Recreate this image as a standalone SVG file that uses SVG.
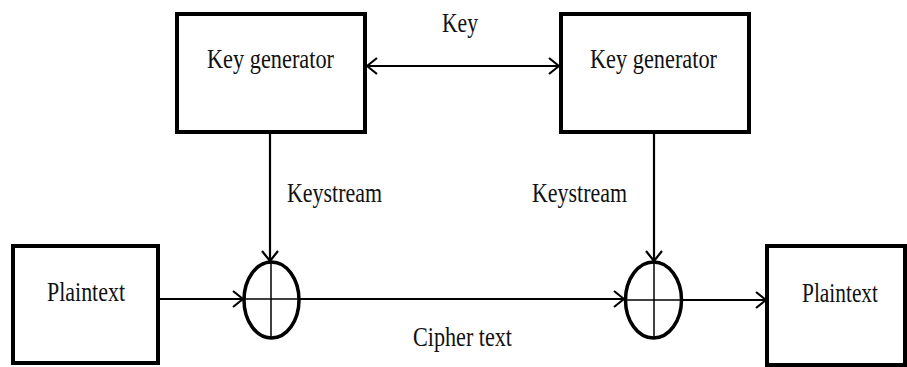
<svg xmlns="http://www.w3.org/2000/svg" width="907" height="367" viewBox="0 0 907 367">
  <style>
    .box { fill: #ffffff; stroke: #000000; stroke-width: 4; }
    .xor { fill: none; stroke: #000000; stroke-width: 3.5; }
    .cross { stroke: #000000; stroke-width: 1.5; }
    .wire { fill: none; stroke: #000000; stroke-width: 2.2; }
    .lbl { font-family: "Liberation Serif", "Times New Roman", serif; font-size: 27px; fill: #111111; }
  </style>
  <defs>
    <marker id="arrow" viewBox="0 0 12 18" refX="11" refY="9" markerWidth="12" markerHeight="18" markerUnits="userSpaceOnUse" orient="auto-start-reverse">
      <path d="M1,1 L11,9 L1,17" fill="none" stroke="#000000" stroke-width="2.2"/>
    </marker>
  </defs>
  <rect width="907" height="367" fill="#ffffff"/>

  <!-- connectors -->
  <g id="connectors">
    <line class="wire" x1="367" y1="66" x2="559" y2="66" marker-start="url(#arrow)" marker-end="url(#arrow)"/>
    <line class="wire" x1="270" y1="134" x2="270" y2="261" marker-end="url(#arrow)"/>
    <line class="wire" x1="654" y1="134" x2="654" y2="261" marker-end="url(#arrow)"/>
    <line class="wire" x1="160" y1="299" x2="243" y2="299" marker-end="url(#arrow)"/>
    <line class="wire" x1="300" y1="299" x2="624" y2="299" marker-end="url(#arrow)"/>
    <line class="wire" x1="682" y1="300" x2="766" y2="300" marker-end="url(#arrow)"/>
    <text class="lbl" x="460" y="32" text-anchor="middle" textLength="36" lengthAdjust="spacingAndGlyphs">Key</text>
    <text class="lbl" x="287" y="202" textLength="95" lengthAdjust="spacingAndGlyphs">Keystream</text>
    <text class="lbl" x="532" y="202" textLength="95" lengthAdjust="spacingAndGlyphs">Keystream</text>
    <text class="lbl" x="413" y="346" textLength="99" lengthAdjust="spacingAndGlyphs">Cipher text</text>
  </g>

  <!-- sender key generator -->
  <g id="keygen-left">
    <rect class="box" x="177" y="14" width="188" height="118"/>
    <text class="lbl" x="207" y="68" textLength="127" lengthAdjust="spacingAndGlyphs">Key generator</text>
  </g>

  <!-- receiver key generator -->
  <g id="keygen-right">
    <rect class="box" x="561" y="14" width="188" height="118"/>
    <text class="lbl" x="590" y="68" textLength="127" lengthAdjust="spacingAndGlyphs">Key generator</text>
  </g>

  <!-- input plaintext -->
  <g id="plaintext-left">
    <rect class="box" x="13" y="246" width="145" height="117"/>
    <text class="lbl" x="47" y="301" textLength="78" lengthAdjust="spacingAndGlyphs">Plaintext</text>
  </g>

  <!-- output plaintext -->
  <g id="plaintext-right">
    <rect class="box" x="767" y="246" width="138" height="119"/>
    <text class="lbl" x="802" y="302" textLength="76" lengthAdjust="spacingAndGlyphs">Plaintext</text>
  </g>

  <!-- XOR at the sender -->
  <g id="xor-left">
    <ellipse class="xor" cx="271.5" cy="300" rx="27.5" ry="38"/>
    <line class="cross" x1="271" y1="262" x2="271" y2="338"/>
    <line class="cross" x1="244" y1="299" x2="299" y2="299"/>
  </g>

  <!-- XOR at the receiver -->
  <g id="xor-right">
    <ellipse class="xor" cx="653.5" cy="300" rx="28" ry="38"/>
    <line class="cross" x1="654" y1="262" x2="654" y2="338"/>
    <line class="cross" x1="626" y1="300" x2="681" y2="300"/>
  </g>
</svg>
